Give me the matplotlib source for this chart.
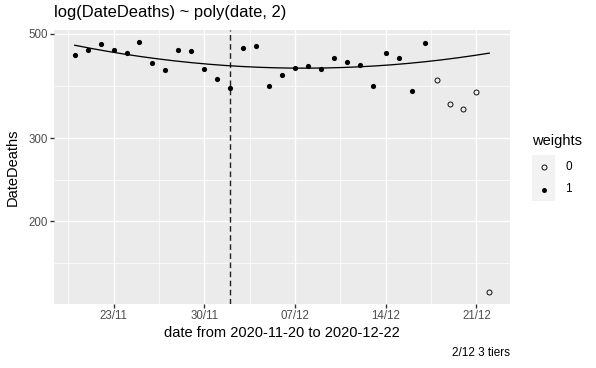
import numpy as np
import matplotlib
matplotlib.use("Agg")
import matplotlib.pyplot as plt
import matplotlib.dates as mdates
from matplotlib.lines import Line2D
from matplotlib.patches import Rectangle

plt.rcParams['font.family'] = ['Liberation Sans', 'DejaVu Sans']

# data
dates = np.arange(np.datetime64('2020-11-20'), np.datetime64('2020-12-23'))
deaths = [451, 462, 475, 462, 456, 479, 433, 418, 462, 459, 420, 400, 383,
          466, 471, 388, 409, 422, 428, 420, 445, 435, 430, 387, 456, 443,
          378, 477, 398, 355, 346, 377, 142]
weights = [1] * 28 + [0] * 5
tier_date = np.datetime64('2020-12-02')
xtick_dates = ['2020-11-23', '2020-11-30', '2020-12-07', '2020-12-14', '2020-12-21']
ytick_vals = [200, 300, 500]
yminor_vals = [163.3, 244.9, 387.3]

deaths = np.array(deaths, dtype=float)
weights = np.array(weights)

# quadratic fit of log(deaths), weighted
day = np.arange(len(dates))
coef = np.polyfit(day, np.log(deaths), 2, w=weights)
fine = np.linspace(0, len(dates) - 1, 200)
fit = np.exp(np.polyval(coef, fine))
x0 = mdates.date2num(dates[0])
xd = mdates.date2num(dates)

W, H = 596, 368
fig = plt.figure(figsize=(W / 72, H / 72), dpi=72)
fig.patch.set_facecolor('white')
L, R, T, B = 54, 510, 30, 304
ax = fig.add_axes([L / W, 1 - B / H, (R - L) / W, (B - T) / H])
ax.set_facecolor('#EBEBEB')
for s in ax.spines.values():
    s.set_visible(False)

ax.set_yscale('log')
w1 = weights == 1
ax.plot(xd[w1], deaths[w1], 'o', color='black', ms=5.2, mew=0, zorder=3)
ax.plot(xd[~w1], deaths[~w1], 'o', mfc='none', mec='black', ms=5.0, mew=0.9, zorder=3)
ax.plot(x0 + fine, fit, color='black', lw=1.3, zorder=3)
ax.axvline(mdates.date2num(tier_date), color='#222222', lw=1.4, ls=(0, (4, 2.5)), zorder=2)

major_x = mdates.date2num(np.array(xtick_dates, dtype='datetime64[D]'))
ax.set_xticks(major_x)
ax.set_xticks(np.concatenate([[major_x[0] - 3.5], major_x[:-1] + 3.5]), minor=True)
ax.xaxis.set_major_formatter(mdates.DateFormatter('%d/%m'))
ax.set_yticks(ytick_vals)
ax.set_yticks(yminor_vals, minor=True)
ax.yaxis.set_major_formatter(matplotlib.ticker.FixedFormatter([str(v) for v in ytick_vals]))
ax.yaxis.set_minor_formatter(matplotlib.ticker.NullFormatter())

# limits with 5% expansion like ggplot
span = xd[-1] - xd[0]
ax.set_xlim(xd[0] - 0.05 * span, xd[-1] + 0.05 * span)
lo, hi = np.log10(deaths.min()), np.log10(deaths.max())
ax.set_ylim(10 ** (lo - 0.05 * (hi - lo)), 10 ** (hi + 0.05 * (hi - lo)))

ax.grid(which='major', color='white', lw=1.4)
ax.grid(which='minor', color='white', lw=0.7)
ax.set_axisbelow(True)
ax.tick_params(which='major', length=3.7, width=1.4, color='#333333',
               labelcolor='#4D4D4D', labelsize=11.5, pad=2.5)
ax.tick_params(which='minor', length=0)

fig.text(282 / W, 1 - 333 / H, 'date from 2020-11-20 to 2020-12-22', fontsize=14.6,
         ha='center', va='center')
fig.text(13 / W, 1 - 167 / H, 'DateDeaths', fontsize=14.6, rotation=90,
         ha='center', va='center')
fig.text(L / W, 1 - 13 / H, 'log(DateDeaths) ~ poly(date, 2)', fontsize=16.5,
         ha='left', va='center')
fig.text(R / W, 1 - 353 / H, '2/12 3 tiers', fontsize=11.7, ha='right', va='center')

# legend
fig.text(532 / W, 1 - 141 / H, 'weights', fontsize=14.6, ha='left', va='center')
for i, (lab, filled) in enumerate([('0', False), ('1', True)]):
    ytop = 155 + i * 23
    fig.add_artist(Rectangle((532 / W, 1 - (ytop + 23) / H), 23 / W, 23 / H,
                             transform=fig.transFigure, facecolor='#F2F2F2',
                             edgecolor='none'))
    fig.add_artist(Line2D([543.5 / W], [1 - (ytop + 11.5) / H], marker='o',
                          ms=5.0, mfc='black' if filled else 'none',
                          mec='black', mew=0 if filled else 0.9,
                          transform=fig.transFigure))
    fig.text(565 / W, 1 - (ytop + 11.5) / H, lab, fontsize=11.7, ha='left', va='center')

fig.savefig('out.png', dpi=72)
